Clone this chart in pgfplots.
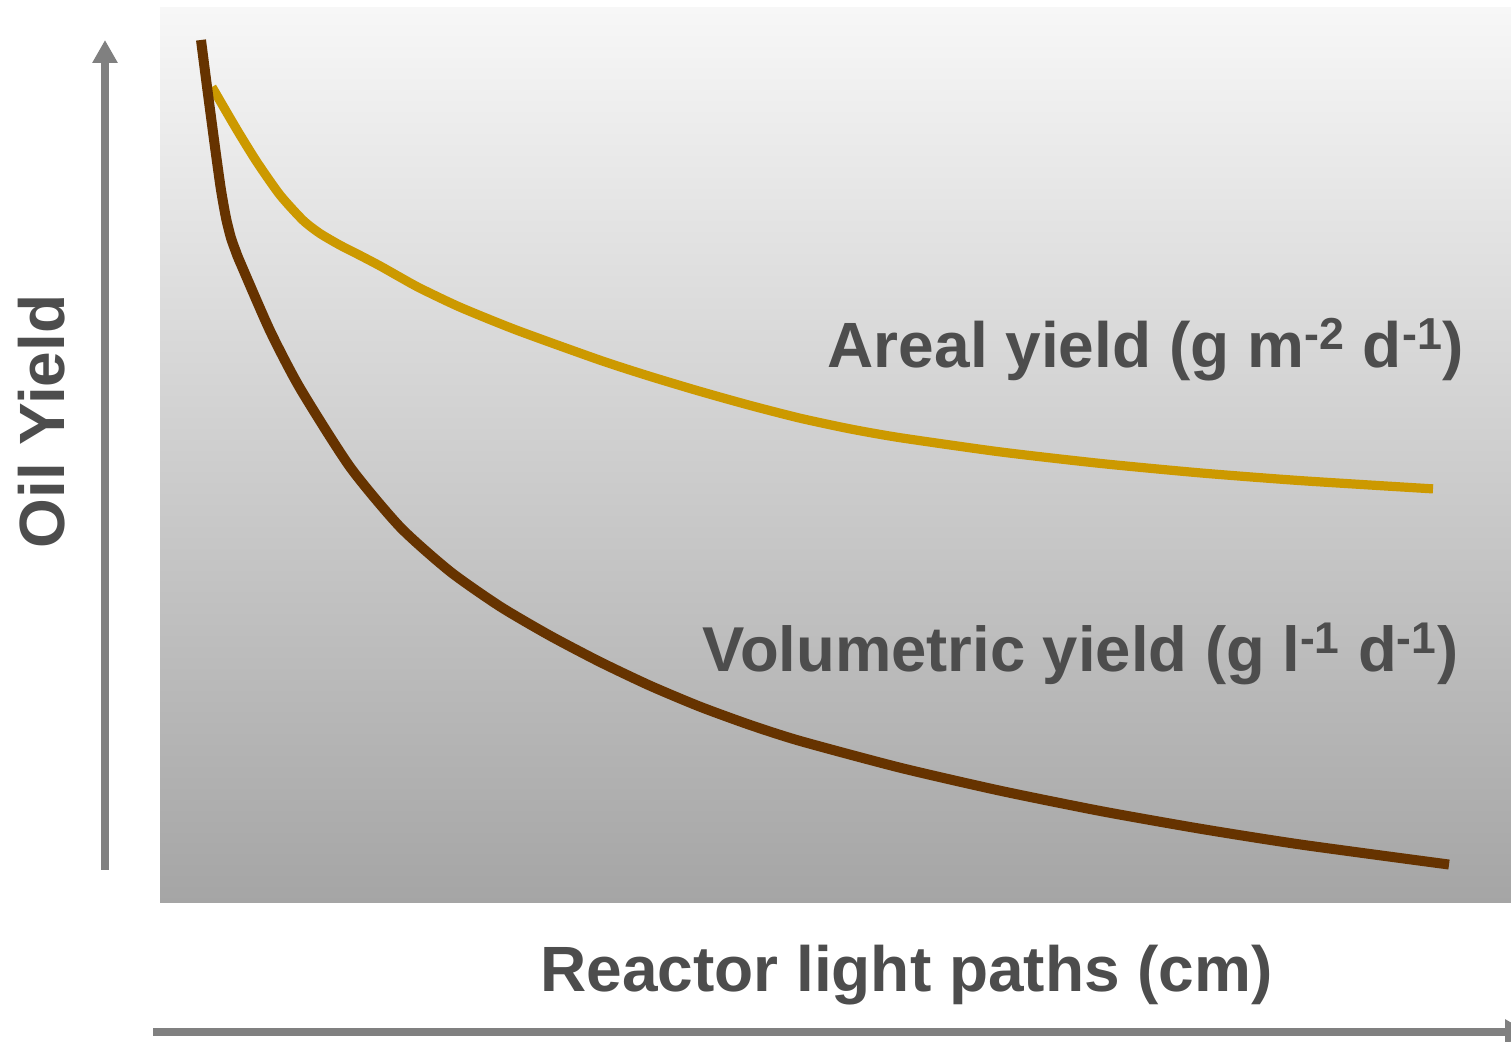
\documentclass[border=0pt]{standalone}
\usepackage{pgfplots}
\pgfplotsset{compat=1.18}
\usepackage{fontspec}
\setmainfont{Liberation Sans}
\usetikzlibrary{arrows.meta}
\definecolor{txt}{HTML}{4D4D4D}
\definecolor{arr}{HTML}{808080}
\definecolor{volc}{HTML}{663300}
\definecolor{arec}{HTML}{CC9900}
\definecolor{bgtop}{HTML}{F7F7F7}
\definecolor{bgbot}{HTML}{A5A5A5}
\begin{document}
\begin{tikzpicture}
\useasboundingbox (0,0) rectangle (755.5pt,521pt);
\clip (0,0) rectangle (755.5pt,521pt);
\begin{axis}[
  at={(80pt,69.5pt)}, anchor=south west,
  scale only axis, width=675.5pt, height=447.5pt,
  xmin=0, xmax=1351, ymin=0, ymax=895,
  ticks=none, axis line style={draw=none},
  axis background/.style={top color=bgtop, bottom color=bgbot},
  clip=false,
]
\addplot[arec, line width=4.6pt, smooth, tension=0.4] coordinates {
(52,816) (77,773.1) (97,740.8) (120,708) (143,682.7) (160,669.5) (180,657.8)
(200,647.6) (220,637.1) (240,625.8) (260,614.8) (300,595.8) (357,572.7)
(440,542.8) (490,526.6) (540,511.6) (590,497.6) (640,484.8) (690,474.1)
(740,465.3) (840,451.1) (940,439.6) (1040,430.1) (1140,422.4) (1273,414.1)};
\addplot[volc, line width=5pt, smooth, tension=0.4] coordinates {
(41,863) (46,824) (51,786) (56,748.5) (61,713) (66,685) (71,665) (76,651)
(80,641) (110,572.3) (140,514.8) (190,436.05) (240,376.05) (290,331.55)
(340,296.55) (390,267.3) (440,241.05) (490,217.3) (540,196.3) (590,178.05)
(640,162.05) (740,135.3) (840,112.3) (940,92.05) (1040,74.3) (1140,58.55) (1289,38.45)};
\end{axis}
\draw[arr, line width=4pt, -{Triangle[length=11.5pt,width=12pt]}] (52.5pt,86pt) -- (52.5pt,501pt);
\draw[arr, line width=4pt, -{Triangle[length=11.5pt,width=12pt]}] (76.5pt,5pt) -- (764pt,5pt);
\node[txt, font=\fontsize{32}{38}\selectfont\bfseries, anchor=base, inner sep=0pt] at (573pt,337pt) {Areal yield (g m\textsuperscript{-2} d\textsuperscript{-1})};
\node[txt, font=\fontsize{31.7}{38}\selectfont\bfseries, anchor=base, inner sep=0pt] at (540.25pt,185pt) {Volumetric yield (g l\textsuperscript{-1} d\textsuperscript{-1})};
\node[txt, font=\fontsize{32}{38}\selectfont\bfseries, anchor=base, inner sep=0pt] at (453.25pt,25pt) {Reactor light paths (cm)};
\node[txt, font=\fontsize{32}{38}\selectfont\bfseries, anchor=base, inner sep=0pt, rotate=90] at (32pt,310.25pt) {Oil Yield};
\end{tikzpicture}
\end{document}
